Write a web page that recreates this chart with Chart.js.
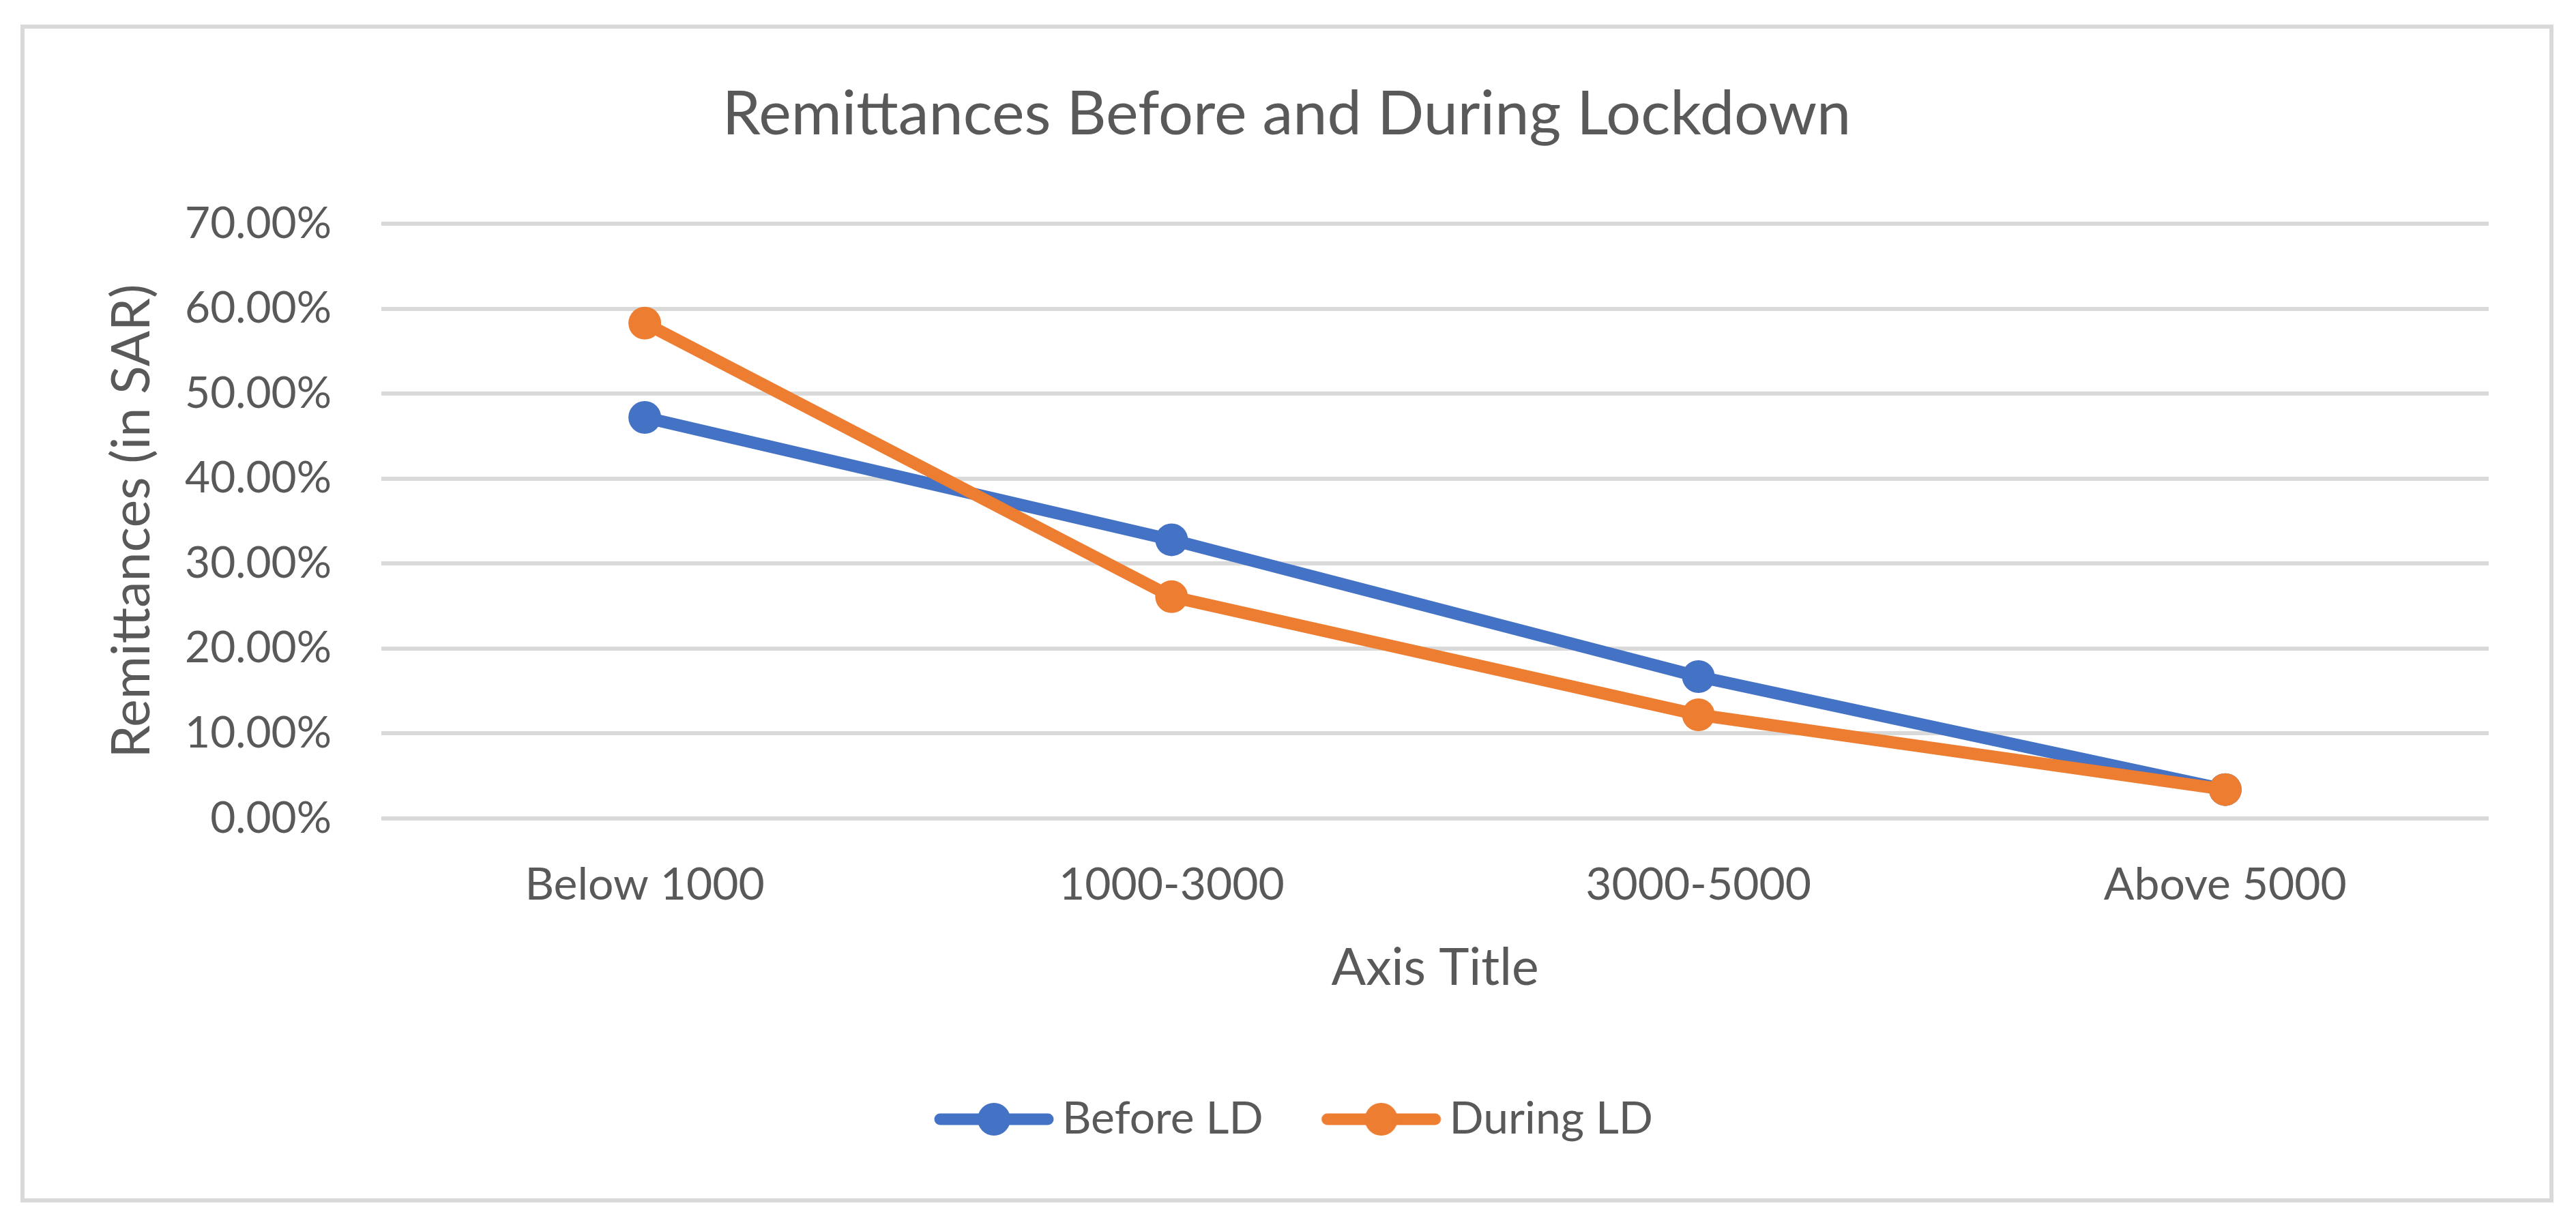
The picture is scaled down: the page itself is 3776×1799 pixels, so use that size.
<!DOCTYPE html>
<html>
<head>
<meta charset="utf-8">
<script src="https://cdn.jsdelivr.net/npm/chart.js@4.4.0/dist/chart.umd.min.js"></script>
<style>
  html, body { margin: 0; padding: 0; background: #fff; }
  #c { position: absolute; left: 0; top: 0; }
  #frame {
    position: absolute; left: 30px; top: 36px; width: 3713px; height: 1727px;
    box-sizing: border-box; border: 6px solid #d9d9d9; pointer-events: none;
  }
</style>
</head>
<body>
<canvas id="c" width="3776" height="1799"></canvas>
<div id="frame"></div>
<script>
// Data
const categories = ['Below 1000', '1000-3000', '3000-5000', 'Above 5000']
const beforeLD = [47.2, 32.8, 16.7, 3.4]
const duringLD = [58.3, 26.1, 12.2, 3.4]
const seriesNames = ['Before LD', 'During LD']
const yMin = 0
const yMax = 70
const yStep = 10

const blue = '#4472C4'
const orange = '#ED7D31'
const textColor = '#595959'
const gridColor = '#D9D9D9'
const fontFamily = 'Lato, "Open Sans", sans-serif'

// legend sample: line with a dot in the middle (left part of the canvas kept empty)
function legendIcon(color) {
  const cv = document.createElement('canvas')
  cv.width = 217
  cv.height = 50
  const ctx = cv.getContext('2d')
  const x0 = 41
  ctx.strokeStyle = color
  ctx.lineWidth = 17
  ctx.lineCap = 'round'
  ctx.beginPath()
  ctx.moveTo(x0 + 9, 25)
  ctx.lineTo(x0 + 167, 25)
  ctx.stroke()
  ctx.fillStyle = color
  ctx.beginPath()
  ctx.arc(x0 + 88, 25, 24, 0, Math.PI * 2)
  ctx.fill()
  return cv
}

const icons = [legendIcon(blue), legendIcon(orange)]

const chart = new Chart(document.getElementById('c'), {
  type: 'line',
  data: {
    labels: categories,
    datasets: [{
      label: seriesNames[0],
      data: beforeLD,
      borderColor: blue,
      backgroundColor: blue,
      borderWidth: 18,
      pointRadius: 24,
      pointBorderWidth: 0,
      borderCapStyle: 'round',
      borderJoinStyle: 'round',
      tension: 0,
      order: 2
    }, {
      label: seriesNames[1],
      data: duringLD,
      borderColor: orange,
      backgroundColor: orange,
      borderWidth: 18,
      pointRadius: 24,
      pointBorderWidth: 0,
      borderCapStyle: 'round',
      borderJoinStyle: 'round',
      tension: 0,
      order: 1
    }]
  },
  options: {
    responsive: false,
    animation: false,
    devicePixelRatio: 1,
    layout: { padding: { left: 0, right: 4, top: 0, bottom: 115 } },
    plugins: {
      tooltip: { enabled: false },
      title: {
        display: true,
        text: 'Remittances Before and During Lockdown',
        color: textColor,
        font: { family: fontFamily, size: 90, weight: 'normal' },
        padding: { top: 114, bottom: 106 }
      },
      legend: {
        position: 'bottom',
        labels: {
          color: textColor,
          font: { family: fontFamily, size: 66 },
          usePointStyle: true,
          pointStyleWidth: 175,
          padding: 65,
          generateLabels: (c) => c.data.datasets.map((ds, i) => ({
            text: ds.label,
            pointStyle: icons[i],
            fontColor: textColor,
            datasetIndex: i,
            hidden: false,
            lineWidth: 0
          }))
        }
      }
    },
    scales: {
      x: {
        offset: true,
        grid: { display: false, drawTicks: false },
        border: { display: false },
        ticks: {
          color: textColor,
          font: { family: fontFamily, size: 66 },
          padding: 58,
          maxRotation: 0
        },
        title: {
          display: true,
          text: 'Axis Title',
          color: textColor,
          font: { family: fontFamily, size: 75 },
          padding: { top: 0, bottom: 78 }
        },
        afterFit: (scale) => { scale.height = 343 }
      },
      y: {
        min: yMin,
        max: yMax,
        grid: { color: gridColor, lineWidth: 6, drawTicks: false },
        border: { display: false },
        ticks: {
          stepSize: yStep,
          color: textColor,
          font: { family: fontFamily, size: 64 },
          padding: 73,
          callback: (v) => v.toFixed(2) + '%'
        },
        title: {
          display: true,
          text: 'Remittances (in SAR)',
          color: textColor,
          font: { family: fontFamily, size: 77 },
          padding: { top: 148, bottom: 0 }
        },
        afterFit: (scale) => { scale.width = 559 }
      },
      spacer: {
        position: 'right',
        display: true,
        grid: { display: false, drawTicks: false },
        border: { display: false },
        ticks: { display: false },
        afterFit: (scale) => { scale.width = 124 }
      }
    }
  }
})
</script>
</body>
</html>
